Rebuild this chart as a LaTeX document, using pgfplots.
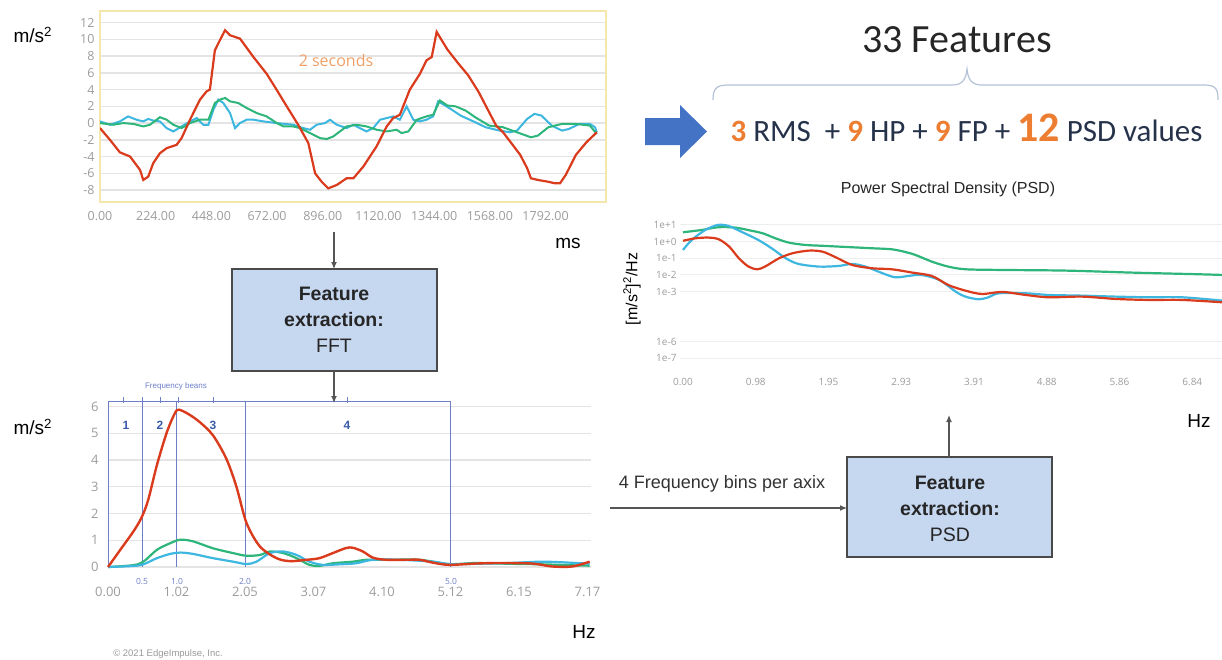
\documentclass[border=0pt]{standalone}
\usepackage{fontspec}
\setmainfont{Liberation Sans}
\newfontfamily\osans{Open Sans}
\newfontfamily\carlito{Carlito}
\usepackage{pgfplots}
\pgfplotsset{compat=1.18}
\usetikzlibrary{arrows.meta}
\definecolor{cred}{HTML}{D93B1C}
\definecolor{cgreen}{HTML}{2DB57A}
\definecolor{cblue}{HTML}{3DB7E0}
\definecolor{tickc}{HTML}{9C9C9C}
\definecolor{gridc}{HTML}{E4E4E4}
\definecolor{gridp}{HTML}{EEEEEE}
\definecolor{frameY}{HTML}{F5E6AE}
\definecolor{binblue}{HTML}{6C7EC8}
\definecolor{binnum}{HTML}{3A5BAA}
\definecolor{boxfill}{HTML}{C6D7F0}
\definecolor{boxdraw}{HTML}{4A4A4A}
\definecolor{orng}{HTML}{ED7D31}
\definecolor{secc}{HTML}{F0A066}
\definecolor{navy}{HTML}{25324A}
\definecolor{arrowblue}{HTML}{4472C4}
\definecolor{bracec}{HTML}{B4C2D8}
\definecolor{arrc}{HTML}{555555}
\begin{document}
\begin{tikzpicture}[x=1pt,y=-1pt]
\path[use as bounding box] (0,0) rectangle (1222,659);
% ---------------- time signal ----------------
\begin{axis}[at={(100pt,-201.7pt)}, anchor=south west, scale only axis,
  width=506pt, height=190.7pt, xmin=0, xmax=2035, ymin=-9.4, ymax=13.4,
  axis line style={frameY, line width=1.6pt},
  major tick length=0pt,
  ytick={-8,-6,-4,-2,0,2,4,6,8,10,12},
  yticklabels={-8,-6,-4,-2,0,2,4,6,8,10,12},
  xtick={0,224,448,672,896,1120,1344,1568,1792},
  xticklabels={0.00,224.00,448.00,672.00,896.00,1120.00,1344.00,1568.00,1792.00},
  ymajorgrids, grid style={gridc, line width=1.5pt},
  ticklabel style={font=\osans\fontsize{12.5}{14}\selectfont, text=tickc},
  xticklabel style={yshift=-6pt},
  yticklabel style={xshift=-2pt}]
\addplot[cblue, line width=2pt] coordinates {(0,0.2)(40,-0.2)(80,0.2)(113,0.8)(147,0.4)(174,0.2)(194,0.5)(214,0.3)(241,0.2)(268,-0.6)(295,-1.0)(328,-0.4)(362,0.2)(389,0.6)(415,-0.2)(436,-0.2)(456,1.6)(476,2.8)(496,2.4)(523,1.2)(543,-0.6)(563,0)(590,0.4)(617,0.4)(657,0.2)(711,0)(777,-0.2)(818,-0.6)(845,-0.8)(871,-0.2)(905,0)(925,0.4)(952,-0.2)(992,-0.6)(1019,-0.2)(1045,-0.6)(1072,-1.0)(1099,-0.6)(1126,0.4)(1153,0.6)(1180,0.8)(1206,0.4)(1233,2.0)(1260,0.4)(1287,0.2)(1313,0.4)(1340,0.8)(1360,2.6)(1410,1.7)(1450,0.9)(1509,0.1)(1551,-0.5)(1607,-0.9)(1649,-1.1)(1677,-0.9)(1718,0.5)(1747,1.1)(1775,0.9)(1817,-0.3)(1858,-0.9)(1886,-0.7)(1928,-0.1)(1970,-0.1)(1991,-0.5)(1998,-1.1)};
\addplot[cgreen, line width=2pt] coordinates {(0,0)(53,-0.2)(94,0)(134,-0.1)(174,-0.4)(201,-0.2)(241,0.7)(268,0.4)(295,-0.2)(328,-0.6)(362,0)(402,0.4)(436,0.4)(462,2.4)(483,2.8)(503,3.0)(523,2.6)(556,2.4)(590,1.8)(630,1.2)(670,0.8)(711,0)(738,-0.4)(777,-0.4)(804,-0.6)(845,-1.2)(885,-1.8)(912,-1.9)(938,-1.6)(965,-1.0)(992,-0.4)(1032,-0.2)(1072,-0.4)(1113,-0.8)(1153,-1.0)(1193,-0.8)(1213,-1.2)(1240,-1.0)(1274,0.4)(1313,0.8)(1340,1.0)(1367,2.7)(1397,2.1)(1430,2.0)(1470,1.5)(1509,0.7)(1565,-0.3)(1621,-0.5)(1677,-1.1)(1733,-1.7)(1761,-1.5)(1803,-0.5)(1858,-0.1)(1914,-0.1)(1970,-0.3)(1998,-1.3)};
\addplot[cred, line width=2.2pt] coordinates {(0,-0.6)(40,-2.0)(80,-3.5)(121,-4.0)(161,-5.6)(174,-6.8)(194,-6.4)(214,-4.8)(241,-3.6)(268,-3.0)(308,-2.6)(328,-1.8)(362,0.4)(402,2.8)(429,3.8)(442,4.0)(462,8.7)(482,9.9)(503,11.1)(523,10.5)(563,10.1)(617,7.9)(670,5.9)(710,4.0)(751,2.0)(797,-0.2)(838,-2.4)(865,-6.0)(891,-7.0)(918,-7.8)(952,-7.4)(992,-6.6)(1019,-6.6)(1059,-5.2)(1112,-2.8)(1153,-0.4)(1179,0.6)(1206,1.0)(1246,4.0)(1287,5.9)(1313,7.5)(1334,7.9)(1354,10.9)(1397,8.8)(1439,7.2)(1481,5.7)(1523,3.7)(1565,1.3)(1593,-0.3)(1621,-1.1)(1662,-2.7)(1690,-3.8)(1718,-5.4)(1733,-6.6)(1761,-6.8)(1800,-7.0)(1830,-7.2)(1850,-7.2)(1873,-6.2)(1914,-3.8)(1956,-2.3)(1984,-1.5)(1998,-1.1)};
\end{axis}
% ---------------- FFT ----------------
\begin{axis}[at={(108pt,-567pt)}, anchor=south west, scale only axis,
  width=483pt, height=165.6pt, xmin=0, xmax=7.22, ymin=0, ymax=6.19,
  clip=false, axis line style={draw=none}, major tick length=0pt,
  ytick={0,1,2,3,4,5,6}, yticklabels={0,1,2,3,4,5,6},
  xtick={0,1.024,2.048,3.072,4.096,5.12,6.144,7.168},
  xticklabels={0.00,1.02,2.05,3.07,4.10,5.12,6.15,7.17},
  ymajorgrids, grid style={gridc, line width=1.1pt},
  ticklabel style={font=\osans\fontsize{13}{15}\selectfont, text=tickc},
  xticklabel style={yshift=-17pt},
  yticklabel style={xshift=-6pt}]
\draw[binblue, line width=0.9pt] (axis cs:0,0) -- (axis cs:0,6.19) -- (axis cs:5.12,6.19) -- (axis cs:5.12,0);
\draw[binblue, line width=0.9pt] (axis cs:0.51,0) -- (axis cs:0.51,6.19);
\draw[binblue, line width=0.9pt] (axis cs:1.024,0) -- (axis cs:1.024,6.19);
\draw[binblue, line width=0.9pt] (axis cs:2.048,0) -- (axis cs:2.048,6.19);
\addplot[cgreen, line width=2.2pt, smooth] coordinates {(0,0)(0.38,0.07)(0.53,0.2)(0.73,0.64)(0.93,0.89)(1.08,1.02)(1.27,0.96)(1.57,0.7)(1.87,0.52)(2.07,0.42)(2.27,0.45)(2.42,0.58)(2.62,0.52)(2.82,0.33)(3.01,0.08)(3.16,0.04)(3.36,0.14)(3.66,0.2)(3.86,0.27)(4.16,0.27)(4.66,0.27)(5.1,0.11)(5.5,0.15)(6.0,0.12)(6.5,0.1)(7.0,0.06)(7.2,0.05)};
\addplot[cblue, line width=2.2pt, smooth] coordinates {(0,0)(0.38,0.04)(0.53,0.1)(0.73,0.33)(0.93,0.49)(1.08,0.54)(1.27,0.49)(1.57,0.33)(1.87,0.2)(2.07,0.11)(2.22,0.2)(2.42,0.52)(2.62,0.58)(2.82,0.45)(3.01,0.2)(3.21,0.08)(3.46,0.1)(3.71,0.14)(3.96,0.27)(4.36,0.27)(4.86,0.2)(5.1,0.11)(5.5,0.12)(6.0,0.15)(6.5,0.2)(7.0,0.15)(7.2,0.12)};
\addplot[cred, line width=2.4pt, smooth] coordinates {(0,0)(0.2,0.7)(0.38,1.33)(0.5,1.84)(0.6,2.5)(0.73,3.8)(0.88,5.04)(1.0,5.75)(1.06,5.88)(1.2,5.72)(1.37,5.42)(1.57,4.92)(1.77,4.04)(1.92,3.0)(2.07,1.65)(2.27,0.77)(2.52,0.33)(2.72,0.22)(2.97,0.27)(3.16,0.33)(3.36,0.52)(3.56,0.71)(3.66,0.72)(3.81,0.58)(3.96,0.35)(4.16,0.27)(4.46,0.27)(4.66,0.27)(4.86,0.16)(5.1,0.08)(5.5,0.13)(5.85,0.15)(6.34,0.13)(6.64,0.02)(6.94,0.02)(7.2,0.2)};
\end{axis}
% ---------------- PSD ----------------
\begin{axis}[at={(680pt,-358.3pt)}, anchor=south west, scale only axis,
  width=542pt, height=138.4pt, xmin=-0.04, xmax=7.235, ymode=log, ymin=1e-7, ymax=20,
  axis line style={draw=none}, major tick length=0pt,
  ytick={1e-7,1e-6,1e-3,1e-2,1e-1,1,10},
  yticklabels={1e-7,1e-6,1e-3,1e-2,1e-1,1e+0,1e+1},
  xtick={0,0.977,1.953,2.930,3.906,4.883,5.859,6.836},
  xticklabels={0.00,0.98,1.95,2.93,3.91,4.88,5.86,6.84},
  ymajorgrids, grid style={gridp, line width=1pt},
  ticklabel style={font=\osans\fontsize{10}{12}\selectfont, text=tickc},
  xticklabel style={yshift=-16pt},
  yticklabel style={xshift=0pt}]
\addplot[cgreen, line width=2.2pt, smooth] coordinates {(0,3.63)(0.255,5.01)(0.47,7.24)(0.70,6.92)(0.93,4.37)(1.07,3.16)(1.24,1.58)(1.42,0.871)(1.64,0.631)(1.91,0.55)(2.27,0.457)(2.54,0.398)(2.80,0.347)(2.98,0.24)(3.12,0.158)(3.34,0.0631)(3.56,0.0316)(3.79,0.0219)(4.24,0.02)(5.14,0.0182)(6.03,0.0138)(6.92,0.011)(7.24,0.01)};
\addplot[cblue, line width=2.2pt, smooth] coordinates {(0,0.316)(0.118,1.26)(0.30,5.01)(0.47,10.0)(0.61,8.71)(0.78,3.98)(1.01,1.26)(1.19,0.398)(1.38,0.1)(1.55,0.0457)(1.83,0.0316)(2.09,0.0347)(2.27,0.0457)(2.45,0.0316)(2.68,0.0126)(2.85,0.00724)(3.03,0.00871)(3.20,0.01)(3.44,0.00501)(3.66,0.001)(3.79,0.000501)(3.97,0.000347)(4.10,0.000457)(4.24,0.000794)(4.60,0.000794)(4.91,0.000631)(5.35,0.000575)(5.81,0.000501)(6.25,0.000457)(6.70,0.000457)(7.24,0.000288)};
\addplot[cred, line width=2.2pt, smooth] coordinates {(0,1.12)(0.167,1.58)(0.34,1.74)(0.48,1.38)(0.62,0.501)(0.75,0.1)(0.88,0.0316)(0.997,0.0219)(1.10,0.0316)(1.29,0.1)(1.47,0.2)(1.69,0.288)(1.87,0.251)(2.05,0.115)(2.27,0.0398)(2.54,0.0251)(2.80,0.0219)(3.08,0.0138)(3.34,0.00871)(3.56,0.00251)(3.79,0.00115)(4.01,0.000724)(4.29,0.000955)(4.60,0.000631)(4.91,0.000457)(5.36,0.000501)(5.81,0.000363)(6.25,0.000316)(6.70,0.000316)(7.24,0.000229)};
\end{axis}
% ---------------- annotations ----------------
\node[anchor=west, font=\fontsize{19}{22}\selectfont] at (10,35) {m/s\textsuperscript{2}};
\node[anchor=west, font=\fontsize{19}{22}\selectfont] at (10,427) {m/s\textsuperscript{2}};
\node[font=\fontsize{19}{22}\selectfont] at (568,243) {ms};
\node[font=\fontsize{19}{22}\selectfont] at (584,632) {Hz};
\node[font=\fontsize{19}{22}\selectfont] at (1199,421) {Hz};
\node[font=\osans\fontsize{16}{18}\selectfont, text=secc] at (336,60) {2 seconds};
\node[font=\fontsize{9.5}{11}\selectfont, text=gray!80] at (168,654) {\textcopyright\ 2021 EdgeImpulse, Inc.};
% frequency bins labels
\node[font=\fontsize{8}{9}\selectfont, text=binblue] at (176,386) {Frequency beans};
\foreach \xx in {123,142,160,178,213,347} {\draw[binblue, line width=0.8pt] (\xx,397) -- (\xx,403);}
\foreach \xx/\tt in {126/1,160/2,213/3,347/4} {\node[font=\bfseries\fontsize{12}{14}\selectfont, text=binnum] at (\xx,425) {\tt};}
\foreach \xx/\tt in {142/0.5,177/1.0,245/2.0,451/5.0} {\node[font=\osans\fontsize{8.5}{9}\selectfont, text=binblue] at (\xx,581) {\tt};}
% FFT box
\draw[-{Latex[length=7pt,width=6pt]}, arrc, line width=1.2pt] (334,232) -- (334,269);
\draw[fill=boxfill, draw=boxdraw, line width=1.4pt] (232,269) rectangle (437,371);
\node[align=center, font=\fontsize{19.5}{26}\selectfont, text=black!85] at (334,320) {\textbf{Feature}\\\textbf{extraction:}\\FFT};
\draw[-{Latex[length=7pt,width=6pt]}, arrc, line width=1.2pt] (334,371) -- (334,403);
% PSD box
\draw[-{Latex[length=7pt,width=6pt]}, arrc, line width=1.2pt] (610,508) -- (847,508);
\node[font=\fontsize{18}{20}\selectfont, text=black!80] at (722,484) {4 Frequency bins per axix};
\draw[fill=boxfill, draw=boxdraw, line width=1.4pt] (847,457) rectangle (1052,557);
\node[align=center, font=\fontsize{19.5}{26}\selectfont, text=black!85] at (950,509) {\textbf{Feature}\\\textbf{extraction:}\\PSD};
\draw[-{Latex[length=7pt,width=6pt]}, arrc, line width=1.2pt] (949,457) -- (949,415);
% PSD titles
\node[font=\fontsize{16}{18}\selectfont, text=black!85] at (948,189) {Power Spectral Density (PSD)};
\node[rotate=90, font=\fontsize{16}{18}\selectfont] at (632,289) {[m/s\textsuperscript{2}]\textsuperscript{2}/Hz};
% features
\node[font=\carlito\fontsize{40}{48}\selectfont, text=black!85] at (957,40) {33 Features};
\draw[bracec, line width=1.2pt] (713,100) .. controls (713,89) and (716,85) .. (728,85) -- (952,85) .. controls (962,85) and (966,80) .. (967,69) .. controls (968,80) and (972,85) .. (982,85) -- (1204,85) .. controls (1216,85) and (1218,89) .. (1218,100);
\fill[arrowblue] (645,118) -- (680,118) -- (680,105) -- (707,131.5) -- (680,158) -- (680,145) -- (645,145) -- cycle;
\node[anchor=base west, font=\carlito\fontsize{31}{33}\selectfont, text=navy] at (727,141) {{\color{orng}\bfseries 3} RMS\ \ + {\color{orng}\bfseries 9} HP + {\color{orng}\bfseries 9} FP + {\color{orng}\bfseries\fontsize{42}{44}\selectfont 12} PSD values};
\end{tikzpicture}
\end{document}
